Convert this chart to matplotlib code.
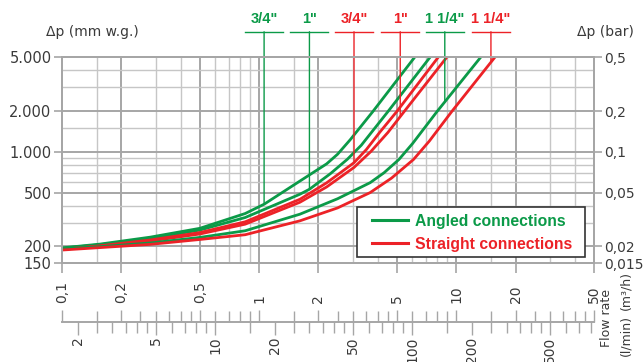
import matplotlib
matplotlib.use('Agg')
import matplotlib.pyplot as plt
from matplotlib.ticker import FixedLocator, NullFormatter, NullLocator, FixedFormatter
from matplotlib.lines import Line2D
from matplotlib.patches import Rectangle
from matplotlib.transforms import IdentityTransform, blended_transform_factory

# ---------------- data ----------------
flow_a34 = [0.1, 0.156, 0.28, 0.50, 0.85, 1.06, 1.61, 2.2, 2.5, 2.9, 3.78, 6.15]
dp_a34 = [195, 208, 234, 272, 350, 410, 608, 815, 960, 1230, 1990, 5000]

flow_a1 = [0.1, 0.156, 0.28, 0.50, 0.85, 1.61, 1.80, 2.3, 2.8, 3.3, 4.51, 7.36]
dp_a1 = [194, 206, 229, 264, 327, 486, 529, 690, 880, 1120, 1990, 5000]

flow_s34 = [0.1, 0.156, 0.28, 0.50, 0.85, 1.61, 2.2, 3.03, 3.5, 4.1, 5.0, 8.1]
dp_s34 = [190, 202, 223, 253, 304, 446, 590, 831, 1040, 1400, 1990, 5000]

flow_s1 = [0.1, 0.156, 0.28, 0.50, 0.85, 1.61, 2.2, 3.03, 3.7, 4.5, 5.45, 8.95]
dp_s1 = [190, 201, 219, 247, 292, 424, 550, 767, 1010, 1390, 1990, 5000]

flow_a114 = [0.1, 0.156, 0.28, 0.50, 0.85, 1.61, 2.5, 3.66, 4.3, 5.12, 6.0, 8.0, 13.3]
dp_a114 = [192, 199, 212, 233, 261, 346, 450, 592, 700, 878, 1150, 1990, 5000]

flow_s114 = [0.1, 0.156, 0.28, 0.50, 0.85, 1.61, 2.5, 3.66, 4.7, 6.07, 7.3, 9.5, 15.7]
dp_s114 = [188, 196, 207, 225, 244, 309, 385, 500, 640, 878, 1200, 1990, 5000]

marker_labels = ['3/4"', '1"', '3/4"', '1"', '1 1/4"', '1 1/4"']
marker_type = ['angled', 'angled', 'straight', 'straight', 'angled', 'straight']
marker_flow = [1.06, 1.80, 3.03, 5.2, 8.75, 15.0]
marker_dp = [410, 529, 831, 1840, 2330, 4590]

legend_labels = ['Angled connections', 'Straight connections']

y_ticks_mm = [150, 200, 500, 1000, 2000, 5000]
y_labels_mm = ['150', '200', '500', '1.000', '2.000', '5.000']
y_labels_bar = ['0,015', '0,02', '0,05', '0,1', '0,2', '0,5']
y_minor_mm = [300, 400, 600, 700, 800, 900, 1500, 3000, 4000]

x_ticks_m3h = [0.1, 0.2, 0.5, 1, 2, 5, 10, 20, 50]
x_labels_m3h = ['0,1', '0,2', '0,5', '1', '2', '5', '10', '20', '50']
x_minor_grid = [0.15, 0.3, 0.4, 0.6, 0.7, 0.8, 0.9, 1.5, 3, 4, 6, 7, 8, 9, 15, 30, 40]
x_minor_scale = [0.15, 0.25, 0.3, 0.35, 0.4, 0.45, 0.6, 0.7, 0.8, 0.9,
                 1.5, 2.5, 3, 3.5, 4, 4.5, 6, 7, 8, 9, 15, 25, 30, 35, 40, 45]
lmin_ticks = [2, 5, 10, 20, 50, 100, 200, 500]
lmin_labels = ['2', '5', '10', '20', '50', '100', '200', '500']
lmin_minor = [2.5, 3, 3.5, 4, 4.5, 6, 7, 8, 9, 15, 25, 30, 35, 40, 45, 60, 70, 80, 90,
              150, 250, 300, 350, 400, 450, 600, 700, 800]

# ---------------- style ----------------
GREEN = '#0b9a48'
RED = '#ec2227'
TXT = '#3a3a3a'
GMAJ = '#a6a6a6'
GMIN = '#c6c6c6'
plt.rcParams['font.family'] = ['DejaVu Sans']
BOLDFAM = ['Liberation Sans', 'DejaVu Sans']

W, H = 644, 362
fig = plt.figure(figsize=(W / 100, H / 100), dpi=100)
L, R = 62 / W, 594 / W
T, B = 1 - 57.3 / H, 1 - 263.3 / H
ax = fig.add_axes([L, B, R - L, T - B])
ax.set_xscale('log')
ax.set_yscale('log')
ax.set_xlim(0.1, 50)
ax.set_ylim(150, 5000)

ax.xaxis.set_major_locator(FixedLocator(x_ticks_m3h))
ax.xaxis.set_minor_locator(FixedLocator(x_minor_grid))
ax.xaxis.set_major_formatter(NullFormatter())
ax.xaxis.set_minor_formatter(NullFormatter())
ax.yaxis.set_major_locator(FixedLocator(y_ticks_mm))
ax.yaxis.set_major_formatter(FixedFormatter(y_labels_mm))
ax.yaxis.set_minor_locator(FixedLocator(y_minor_mm))
ax.yaxis.set_minor_formatter(NullFormatter())

ax.grid(which='major', color=GMAJ, lw=1.4, zorder=0)
ax.grid(which='minor', color=GMIN, lw=1.0, zorder=0)
ax.set_axisbelow(True)
for s in ax.spines.values():
    s.set_color(GMAJ)
    s.set_linewidth(1.4)
ax.tick_params(axis='x', which='major', length=7, width=1.2, color=GMAJ, direction='out')
ax.tick_params(axis='x', which='minor', length=0)
ax.tick_params(axis='y', which='major', length=6, width=1.2, color=GMAJ, direction='out',
               labelsize=10.5, labelcolor=TXT, pad=1.5)
ax.tick_params(axis='y', which='minor', length=0)

axr = ax.twinx()
axr.set_yscale('log')
axr.set_ylim(150, 5000)
axr.yaxis.set_major_locator(FixedLocator(y_ticks_mm))
axr.yaxis.set_major_formatter(FixedFormatter(y_labels_bar))
axr.yaxis.set_minor_locator(NullLocator())
for s in axr.spines.values():
    s.set_color(GMAJ)
    s.set_linewidth(1.4)
axr.tick_params(axis='y', which='major', length=6, width=1.2, color=GMAJ, direction='out',
                labelsize=10, labelcolor=TXT, pad=1.5)

# curves
series = [(flow_a34, dp_a34, GREEN), (flow_a1, dp_a1, GREEN),
          (flow_s34, dp_s34, RED), (flow_s1, dp_s1, RED),
          (flow_a114, dp_a114, GREEN), (flow_s114, dp_s114, RED)]
for fx, fy, c in series:
    ax.plot(fx, fy, color=c, lw=2.0, zorder=3, solid_joinstyle='round')

# size markers
blend = blended_transform_factory(ax.transData, ax.transAxes)
ytop = 1.124
for q, dp, lab, typ in zip(marker_flow, marker_dp, marker_labels, marker_type):
    c = GREEN if typ == 'angled' else RED
    ax.annotate('', xy=(q, dp), xycoords='data', xytext=(q, ytop),
                textcoords=('data', 'axes fraction'), annotation_clip=False,
                arrowprops=dict(arrowstyle='-', color=c, lw=1.0, shrinkA=0, shrinkB=0))
    ax.text(q, 1.150, lab, transform=blend, ha='center', va='bottom', color=c,
            fontweight='bold', fontsize=10.5, family=BOLDFAM, clip_on=False)
    xd = ax.transData.transform((q, 1000))[0]
    yd = ax.transAxes.transform((0, ytop))[1]
    fig.add_artist(Line2D([xd - 19, xd + 19], [yd, yd], transform=IdentityTransform(),
                          color=c, lw=1.0))

# legend (manual frame + frameless legend)
ax.add_patch(Rectangle((0.5551, 0.032), 0.428, 0.2428, transform=ax.transAxes,
                       facecolor='white', edgecolor='#333333', lw=1.2, zorder=5))
handles = [Line2D([], [], color=GREEN, lw=2.2), Line2D([], [], color=RED, lw=2.2)]
leg = ax.legend(handles, legend_labels, loc='center left',
                bbox_to_anchor=((371.7 - 62) / 532, 0.1488),
                frameon=False, prop=dict(weight='bold', size=11.3, family=BOLDFAM),
                handlelength=2.33, handletextpad=0.43, borderpad=0, labelspacing=0.5,
                borderaxespad=0)
leg.set_zorder(6)
for t, c in zip(leg.get_texts(), [GREEN, RED]):
    t.set_color(c)

# bottom flow-rate scale
yb = 1 - 322 / H
axq = fig.add_axes([L, yb, R - L, 1e-4])
axq.set_xscale('log')
axq.set_xlim(0.1, 50)
axq.set_yticks([])
axq.patch.set_visible(False)
for k in ['top', 'left', 'right']:
    axq.spines[k].set_visible(False)
axq.spines['bottom'].set_color(GMAJ)
axq.spines['bottom'].set_linewidth(1.4)
axq.xaxis.set_ticks_position('top')
axq.xaxis.set_major_locator(FixedLocator(x_ticks_m3h))
axq.xaxis.set_major_formatter(FixedFormatter(x_labels_m3h))
axq.xaxis.set_minor_locator(FixedLocator(x_minor_scale))
axq.xaxis.set_minor_formatter(NullFormatter())
axq.tick_params(axis='x', which='both', direction='out', color=GMAJ, width=1.0,
                top=True, bottom=False, labeltop=True, labelbottom=False)
axq.tick_params(axis='x', which='major', length=9, labelsize=10, labelcolor=TXT,
                labelrotation=90, pad=4.5)
axq.tick_params(axis='x', which='minor', length=8)

axl = fig.add_axes([L, yb, R - L, 1e-4])
axl.set_xscale('log')
axl.set_xlim(0.1 * 1000 / 60, 50 * 1000 / 60)
axl.set_yticks([])
axl.patch.set_visible(False)
for s in axl.spines.values():
    s.set_visible(False)
axl.xaxis.set_major_locator(FixedLocator(lmin_ticks))
axl.xaxis.set_major_formatter(FixedFormatter(lmin_labels))
axl.xaxis.set_minor_locator(FixedLocator(lmin_minor))
axl.xaxis.set_minor_formatter(NullFormatter())
axl.tick_params(axis='x', which='both', direction='out', color=GMAJ, width=1.0)
axl.tick_params(axis='x', which='major', length=9, labelsize=10, labelcolor=TXT,
                labelrotation=90, pad=1.5)
axl.tick_params(axis='x', which='minor', length=8)

# texts
fig.text(46 / W, 1 - 31.7 / H, 'Δp (mm w.g.)', ha='left', va='center', fontsize=10, color=TXT)
fig.text(634 / W, 1 - 31.7 / H, 'Δp (bar)', ha='right', va='center', fontsize=10, color=TXT)
fig.text(606 / W, 1 - 318 / H, 'Flow rate', rotation=90, ha='center', va='center',
         fontsize=9, color=TXT)
fig.text(626 / W, 1 - 336 / H, '(l/min)', rotation=90, ha='center', va='center',
         fontsize=9, color=TXT)
fig.text(626 / W, 1 - 291 / H, '(m³/h)', rotation=90, ha='center', va='center',
         fontsize=9, color=TXT)

fig.savefig('out.png', dpi=100)
